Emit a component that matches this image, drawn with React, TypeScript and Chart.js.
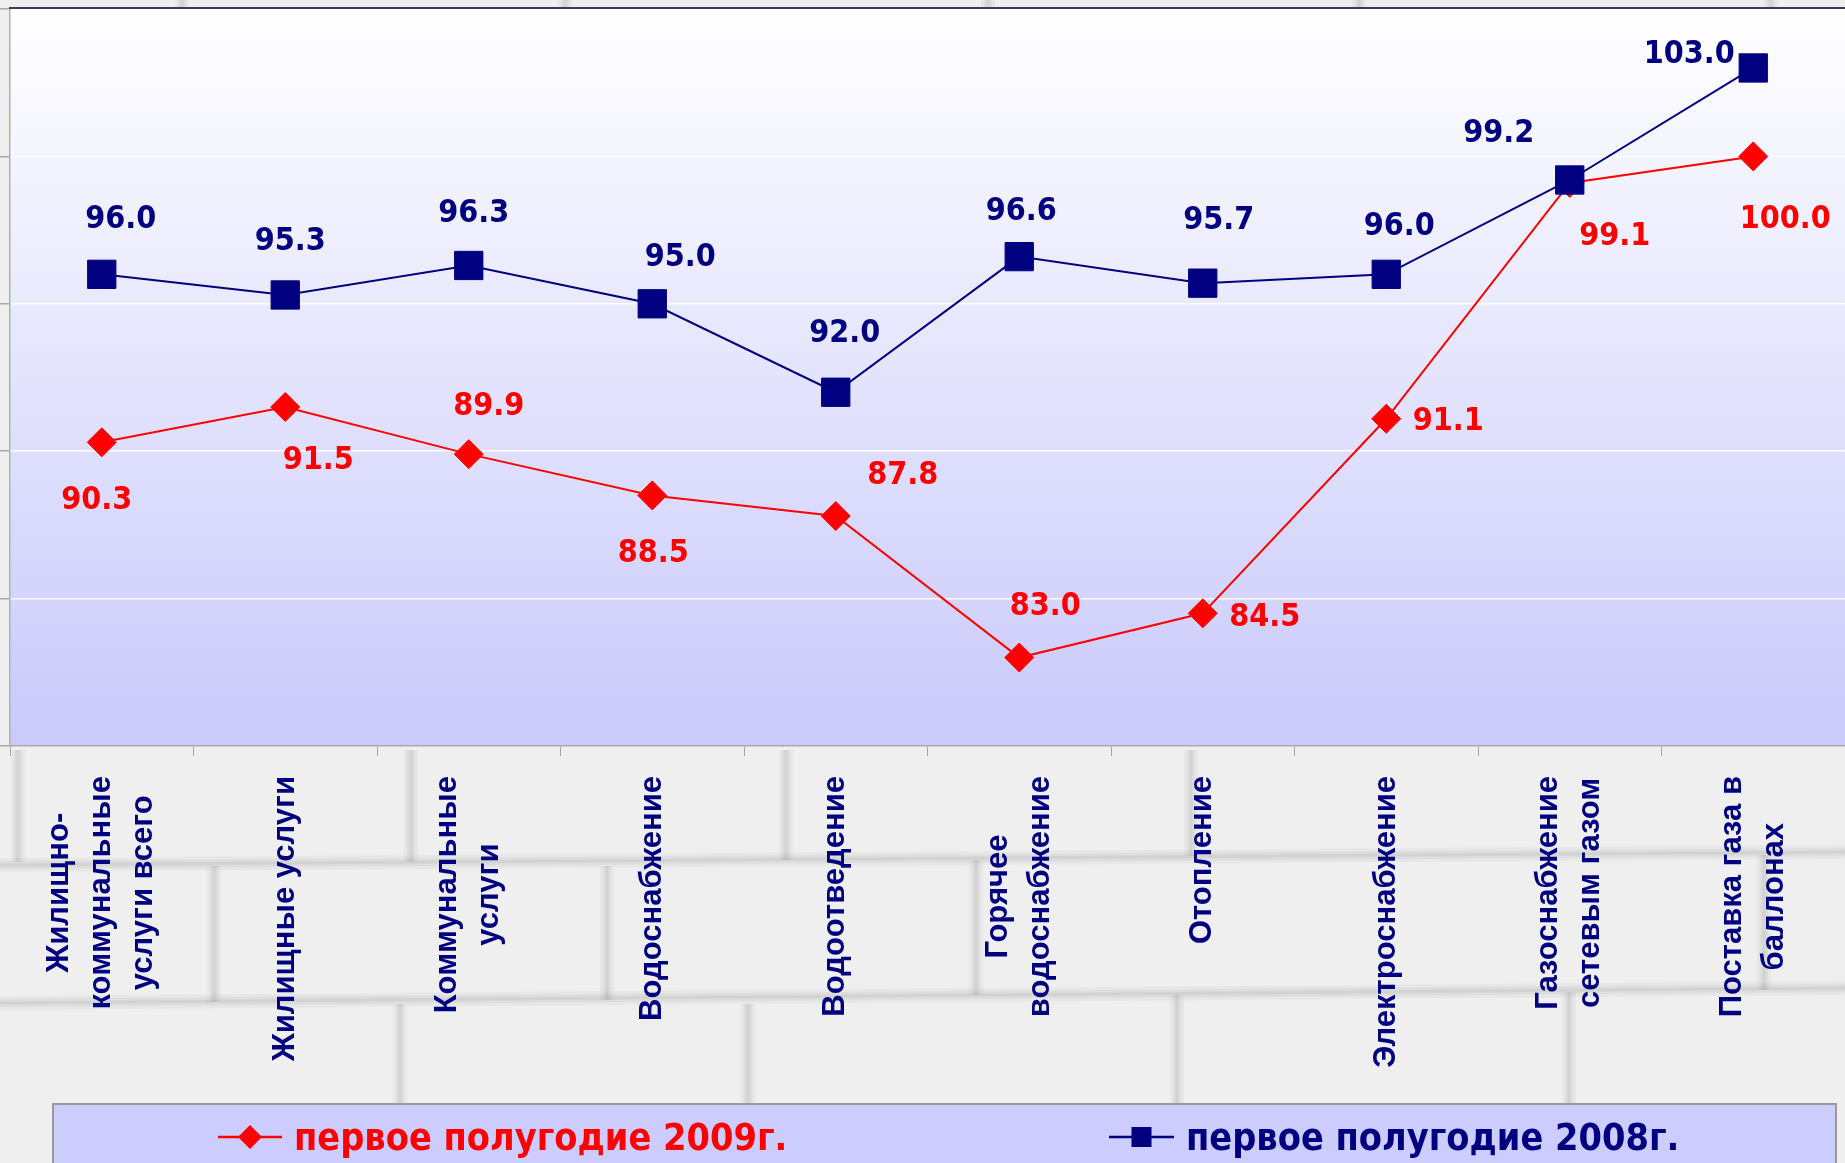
import React, { useEffect, useRef } from "react";
import { Chart, registerables } from "chart.js";

Chart.register(...registerables);

// ---------- data ----------
const categories: string[][] = [
  ["Жилищно-", "коммунальные", "услуги всего"],
  ["Жилищные услуги"],
  ["Коммунальные", "услуги"],
  ["Водоснабжение"],
  ["Водоотведение"],
  ["Горячее", "водоснабжение"],
  ["Отопление"],
  ["Электроснабжение"],
  ["Газоснабжение", "сетевым газом"],
  ["Поставка газа в", "баллонах"],
];
const series2009 = [90.3, 91.5, 89.9, 88.5, 87.8, 83.0, 84.5, 91.1, 99.1, 100.0];
const series2008 = [96.0, 95.3, 96.3, 95.0, 92.0, 96.6, 95.7, 96.0, 99.2, 103.0];
const seriesNames = ["первое полугодие 2009г.", "первое полугодие 2008г."];
const yMin = 80;
const yMax = 105;
const yStep = 5;

// ---------- styling / layout ----------
const RED = "#ff0000";
const NAVY = "#000080";
const labelOffsets2009: [number, number][] = [
  [-5, 55], [33, 51], [20, -51], [1, 55], [67, -44],
  [26, -54], [62, 1], [62, 0], [45, 51], [32, 60],
];
const labelOffsets2008: [number, number][] = [
  [19, -58], [5, -56], [5, -55], [28, -49], [9, -62],
  [2, -48], [16, -66], [13, -51], [-71, -49], [-64, -16],
];
const W = 1845;
const H = 1163;
const valueFont = 'bold 32px "DejaVu Sans Condensed", "DejaVu Sans", sans-serif';
const catFont = 'bold 31px "Liberation Sans", Arial, sans-serif';
const legendFont = 'bold 37.5px "DejaVu Sans Condensed", "DejaVu Sans", sans-serif';

const backgroundPlugin = {
  id: "bgPlugin",
  beforeDraw(chart: any) {
    const { ctx, chartArea } = chart;
    ctx.save();
    ctx.fillStyle = "#efefef";
    ctx.fillRect(0, 0, W, H);
    // soft brick texture (stacked translucent strokes)
    const soft = (draw: () => void) => {
      [[14, 0.06], [8, 0.08], [3, 0.1]].forEach(([w, a]) => {
        ctx.lineWidth = w;
        ctx.strokeStyle = `rgba(120,120,120,${a})`;
        draw();
      });
    };
    const hLines = [
      [0, 865, W, 852],
      [0, 1003, W, 988],
    ];
    const vLines = [
      [18, 750, 862], [411, 750, 862], [786, 750, 860], [1191, 750, 856],
      [214, 866, 1002], [607, 866, 1000], [976, 860, 995], [1764, 855, 990],
      [400, 1004, 1110], [748, 1004, 1110], [1177, 995, 1110], [1569, 992, 1110],
      [182, 0, 8], [565, 0, 8], [988, 0, 8], [1359, 0, 8], [1771, 0, 8],
    ];
    hLines.forEach(([x1, y1, x2, y2]) =>
      soft(() => {
        ctx.beginPath();
        ctx.moveTo(x1, y1);
        ctx.lineTo(x2, y2);
        ctx.stroke();
      })
    );
    vLines.forEach(([x, y1, y2]) =>
      soft(() => {
        ctx.beginPath();
        ctx.moveTo(x, y1);
        ctx.lineTo(x, y2);
        ctx.stroke();
      })
    );
    // plot area gradient
    const g = ctx.createLinearGradient(0, chartArea.top, 0, chartArea.bottom);
    g.addColorStop(0, "#ffffff");
    g.addColorStop(1, "#c9c9fb");
    ctx.fillStyle = g;
    ctx.fillRect(chartArea.left, chartArea.top, chartArea.right - chartArea.left, chartArea.bottom - chartArea.top);
    ctx.restore();
  },
  beforeDatasetsDraw(chart: any) {
    const { ctx, chartArea } = chart;
    ctx.save();
    ctx.strokeStyle = "#3c3c5c";
    ctx.lineWidth = 2;
    ctx.beginPath();
    ctx.moveTo(chartArea.left - 1, chartArea.top - 1);
    ctx.lineTo(W, chartArea.top - 1);
    ctx.stroke();
    ctx.restore();
  },
};

const valueLabelPlugin = {
  id: "valueLabels",
  afterDatasetsDraw(chart: any) {
    const { ctx } = chart;
    chart.data.datasets.forEach((ds: any, di: number) => {
      const meta = chart.getDatasetMeta(di);
      const offs = di === 0 ? labelOffsets2009 : labelOffsets2008;
      ctx.save();
      ctx.font = valueFont;
      ctx.fillStyle = ds.borderColor;
      ctx.textAlign = "center";
      ctx.textBaseline = "alphabetic";
      meta.data.forEach((pt: any, i: number) => {
        const v = ds.data[i] as number;
        ctx.fillText(v.toFixed(1), pt.x + offs[i][0], pt.y + offs[i][1] + 11.5);
      });
      ctx.restore();
    });
  },
};

const catLabelPlugin = {
  id: "catLabels",
  afterDraw(chart: any) {
    const { ctx } = chart;
    const xs = chart.scales.x;
    const labels = chart.data.labels as string[][];
    const lineH = 42;
    const top = xs.bottom + 20;
    ctx.save();
    ctx.font = catFont;
    ctx.fillStyle = NAVY;
    labels.forEach((lines, i) => {
      const x = xs.getPixelForValue(i);
      const maxW = Math.max(...lines.map((l) => ctx.measureText(l).width));
      ctx.save();
      ctx.translate(x, top + maxW / 2);
      ctx.rotate(-Math.PI / 2);
      ctx.textAlign = "center";
      ctx.textBaseline = "middle";
      lines.forEach((l, j) => {
        ctx.fillText(l, 0, (j - (lines.length - 1) / 2) * lineH);
      });
      ctx.restore();
    });
    ctx.restore();
  },
};

const legendPlugin = {
  id: "customLegend",
  afterDraw(chart: any) {
    const { ctx } = chart;
    ctx.save();
    // box
    ctx.fillStyle = "#ccccff";
    ctx.fillRect(53, 1104, 1783, 70);
    ctx.strokeStyle = "#9a9a9a";
    ctx.lineWidth = 2;
    ctx.strokeRect(53, 1104, 1783, 70);
    const cy = 1137;
    const items = [
      { x1: 218, x2: 282, tx: 294 },
      { x1: 1109, x2: 1174, tx: 1186 },
    ];
    chart.data.datasets.forEach((ds: any, di: number) => {
      const it = items[di];
      const col = ds.borderColor;
      ctx.strokeStyle = col;
      ctx.lineWidth = 2.5;
      ctx.beginPath();
      ctx.moveTo(it.x1, cy);
      ctx.lineTo(it.x2, cy);
      ctx.stroke();
      const mx = (it.x1 + it.x2) / 2;
      ctx.fillStyle = col;
      ctx.beginPath();
      if (ds.pointStyle === "rectRot") {
        const r = 12;
        ctx.moveTo(mx - r, cy);
        ctx.lineTo(mx, cy - r);
        ctx.lineTo(mx + r, cy);
        ctx.lineTo(mx, cy + r);
        ctx.closePath();
      } else {
        const s = 10;
        ctx.rect(mx - s, cy - s, 2 * s, 2 * s);
      }
      ctx.fill();
      ctx.font = legendFont;
      ctx.textAlign = "left";
      ctx.textBaseline = "alphabetic";
      ctx.fillText(ds.label, it.tx, cy + 13);
    });
    ctx.restore();
  },
};

export default function App() {
  const canvasRef = useRef<HTMLCanvasElement | null>(null);

  useEffect(() => {
    if (!canvasRef.current) return;
    const chart = new Chart(canvasRef.current, {
      type: "line",
      data: {
        labels: categories as any,
        datasets: [
          {
            label: seriesNames[0],
            data: series2009,
            borderColor: RED,
            backgroundColor: RED,
            borderWidth: 2,
            pointStyle: "rectRot",
            pointRadius: 14.5,
            pointBackgroundColor: RED,
            pointBorderColor: RED,
            pointBorderWidth: 1,
            tension: 0,
            order: 1,
            clip: false,
          },
          {
            label: seriesNames[1],
            data: series2008,
            borderColor: NAVY,
            backgroundColor: NAVY,
            borderWidth: 2,
            pointStyle: "rect",
            pointRadius: 20,
            pointBackgroundColor: NAVY,
            pointBorderColor: NAVY,
            pointBorderWidth: 1,
            tension: 0,
            order: 0,
            clip: false,
          },
        ],
      },
      options: {
        responsive: false,
        animation: false,
        events: [],
        layout: { autoPadding: false, padding: { top: 9, left: 0, right: 0, bottom: 407 } },
        plugins: {
          legend: { display: false },
          tooltip: { enabled: false },
          title: { display: false },
        },
        scales: {
          x: {
            type: "category",
            offset: true,
            grid: {
              offset: true,
              drawOnChartArea: false,
              drawTicks: true,
              tickLength: 10,
              tickColor: "#a8a8a8",
              color: "#a8a8a8",
            },
            border: { display: true, color: "#a8a8a8", width: 1.5 },
            ticks: { display: false },
          },
          y: {
            min: yMin,
            max: yMax,
            grid: {
              color: "rgba(255,255,255,0.95)",
              lineWidth: 1.5,
              tickLength: 10,
              tickColor: "#a8a8a8",
            },
            border: { display: true, color: "#b0b0b0", width: 1.5 },
            ticks: { display: false, stepSize: yStep },
          },
        },
      },
      plugins: [backgroundPlugin, valueLabelPlugin, catLabelPlugin, legendPlugin],
    } as any);
    return () => chart.destroy();
  }, []);

  return (
    <div style={{ position: "fixed", left: 0, top: 0, width: W, height: H }}>
      <canvas ref={canvasRef} width={W} height={H} style={{ display: "block", width: W, height: H }} />
    </div>
  );
}
